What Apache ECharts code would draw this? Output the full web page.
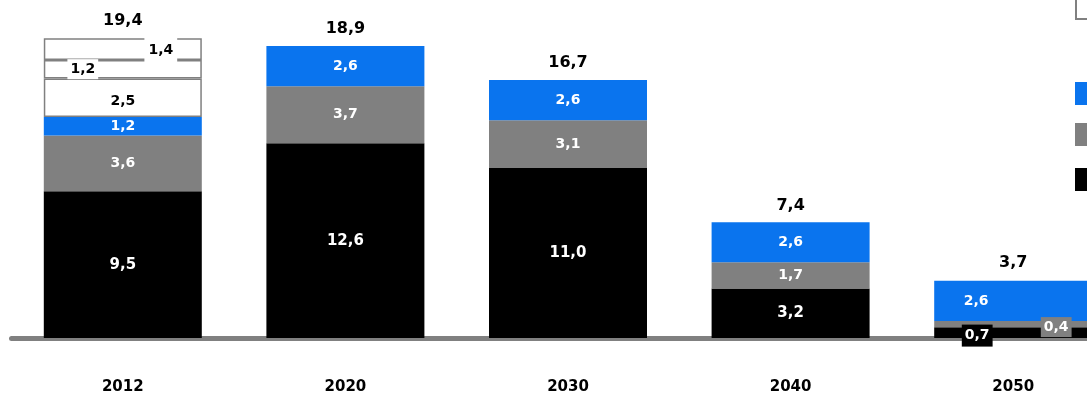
<!DOCTYPE html>
<html>
<head>
<meta charset="utf-8">
<script src="https://cdn.jsdelivr.net/npm/echarts@6/dist/echarts.min.js"></script>
<style>
  html, body { margin: 0; padding: 0; background: #fff; }
  #chart { width: 1087px; height: 396px; }
</style>
</head>
<body>
<div id="chart"></div>
<script>
// Categories and stacked segment values (bottom to top)
const categories = ['2012', '2020', '2030', '2040', '2050'];
const blackValues = [9.5, 12.6, 11.0, 3.2, 0.7];
const grayValues = [3.6, 3.7, 3.1, 1.7, 0.4];
const blueValues = [1.2, 2.6, 2.6, 2.6, 2.6];
const whiteValuesA = [2.5, null, null, null, null];
const whiteValuesB = [1.2, null, null, null, null];
const whiteValuesC = [1.4, null, null, null, null];
const totalValues = [19.4, 18.9, 16.7, 7.4, 3.7];

const BLACK = '#000000';
const GRAY = '#808080';
const BLUE = '#0a74ee';
const FONT = 'DejaVu Sans';

const fmt = v => v.toFixed(1).replace('.', ',');

// per-point label tweaks: segment index -> label overrides
function withLabels(values, overrides) {
  return values.map((v, i) => {
    if (v === null) return '-';
    const o = overrides && overrides[i];
    return o ? { value: v, label: o } : v;
  });
}

function segment(name, values, color, textColor, fontSize, overrides, border) {
  return {
    name: name,
    type: 'bar',
    stack: 'total',
    barWidth: 158,
    data: withLabels(values, overrides),
    itemStyle: border
      ? { color: color, borderColor: GRAY, borderWidth: 1.5 }
      : { color: color },
    label: {
      show: true,
      position: 'inside',
      color: textColor,
      fontFamily: FONT,
      fontWeight: 'bold',
      fontSize: fontSize,
      formatter: p => fmt(p.value)
    },
    emphasis: { disabled: true },
    silent: true
  };
}

const option = {
  animation: false,
  backgroundColor: '#ffffff',
  // the last bar runs past the right edge of the canvas
  grid: {
    left: 11.5, width: 1113, top: 29, bottom: 58,
    containLabel: false, outerBoundsMode: 'none'
  },
  xAxis: {
    type: 'category',
    data: categories,
    offset: 3.5,
    axisLine: { show: true, lineStyle: { color: GRAY, width: 5 } },
    axisTick: { show: false },
    axisLabel: {
      margin: 38,
      color: '#000',
      fontFamily: FONT,
      fontWeight: 'bold',
      fontSize: 15
    }
  },
  yAxis: {
    type: 'value',
    min: 0,
    max: 20,
    show: false,
    splitLine: { show: false }
  },
  legend: [
    { data: ['weiß C'], top: -10 },
    { data: ['blau'], top: 77 },
    { data: ['grau'], top: 118 },
    { data: ['schwarz'], top: 163 }
  ].map(l => Object.assign({
    left: 1070,
    orient: 'vertical',
    icon: 'rect',
    itemWidth: 22,
    itemHeight: 23,
    formatter: () => '',
    selectedMode: false
  }, l)),
  series: [
    segment('schwarz', blackValues, BLACK, '#ffffff', 15, {
      4: { offset: [-36, 3], backgroundColor: BLACK, padding: [4, 3], color: '#fff', fontSize: 14 }
    }),
    segment('grau', grayValues, GRAY, '#ffffff', 14, {
      4: { offset: [43, 3], backgroundColor: GRAY, padding: [3, 3], color: '#fff' }
    }),
    segment('blau', blueValues, BLUE, '#ffffff', 14, {
      4: { offset: [-37, 0] }
    }),
    segment('weiß A', whiteValuesA, '#ffffff', '#000000', 14, {
      0: { offset: [0, 4] }
    }, true),
    segment('weiß B', whiteValuesB, '#ffffff', '#000000', 14, {
      0: { offset: [-40, 0], backgroundColor: '#fff', padding: [3, 3] }
    }, true),
    segment('weiß C', whiteValuesC, '#ffffff', '#000000', 14, {
      0: { offset: [38, 1], backgroundColor: '#fff', padding: [6, 4] }
    }, true),
    {
      name: 'Summe',
      type: 'scatter',
      data: totalValues,
      symbol: 'circle',
      symbolSize: 1,
      itemStyle: { color: 'rgba(0,0,0,0)', opacity: 1 },
      label: {
        show: true,
        position: 'top',
        distance: 9,
        color: '#000',
        opacity: 1,
        fontFamily: FONT,
        fontWeight: 'bold',
        fontSize: 16,
        formatter: p => fmt(p.value)
      },
      z: 5,
      silent: true
    }
  ]
};

const chart = echarts.init(document.getElementById('chart'), null, { renderer: 'canvas' });
chart.setOption(option);
</script>
</body>
</html>
